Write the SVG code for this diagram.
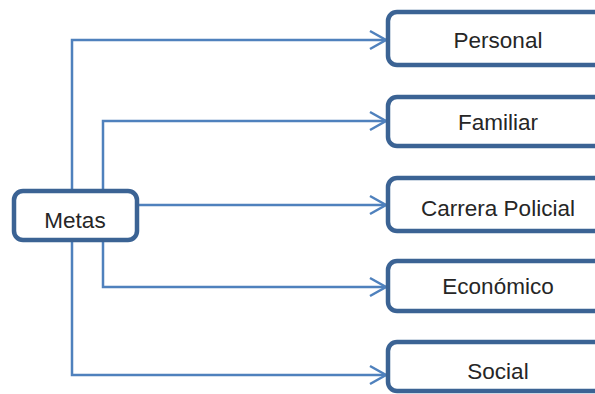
<svg xmlns="http://www.w3.org/2000/svg" width="595" height="394" viewBox="0 0 595 394">
<style>
.box{fill:#fff;stroke:#3b6394;stroke-width:4.5}
.lbl{font-family:"Liberation Sans",Arial,sans-serif;font-size:22.5px;fill:#262626;text-anchor:middle}
.conn{fill:none;stroke:#4f81bd;stroke-width:2.5}
</style>
<defs>
<marker id="arr" markerUnits="userSpaceOnUse" markerWidth="24" markerHeight="24" viewBox="-20 -12 24 24" refX="0" refY="0" orient="auto">
<path d="M-16,-9 L0,0 L-16,9" fill="none" stroke="#4f81bd" stroke-width="2.5"/>
</marker>
</defs>
<g id="connectors">
<path class="conn" d="M72 191 V40 H386" marker-end="url(#arr)"/>
<path class="conn" d="M103 191 V121 H386" marker-end="url(#arr)"/>
<path class="conn" d="M138 205 H386" marker-end="url(#arr)"/>
<path class="conn" d="M103 240 V287 H386" marker-end="url(#arr)"/>
<path class="conn" d="M72 240 V375 H386" marker-end="url(#arr)"/>
</g>
<g id="metas"><rect class="box" x="14" y="191" width="123" height="49" rx="9"/><text class="lbl" x="75" y="228">Metas</text></g>
<g id="personal"><rect class="box" x="388" y="12" width="220" height="53" rx="9"/><text class="lbl" x="498" y="48">Personal</text></g>
<g id="familiar"><rect class="box" x="388" y="97" width="220" height="49" rx="9"/><text class="lbl" x="498" y="130">Familiar</text></g>
<g id="carrera"><rect class="box" x="388" y="178" width="220" height="53" rx="9"/><text class="lbl" x="498" y="216">Carrera Policial</text></g>
<g id="economico"><rect class="box" x="388" y="261" width="220" height="50" rx="9"/><text class="lbl" x="498" y="294">Económico</text></g>
<g id="social"><rect class="box" x="388" y="342" width="220" height="49" rx="9"/><text class="lbl" x="498" y="379">Social</text></g>
</svg>
